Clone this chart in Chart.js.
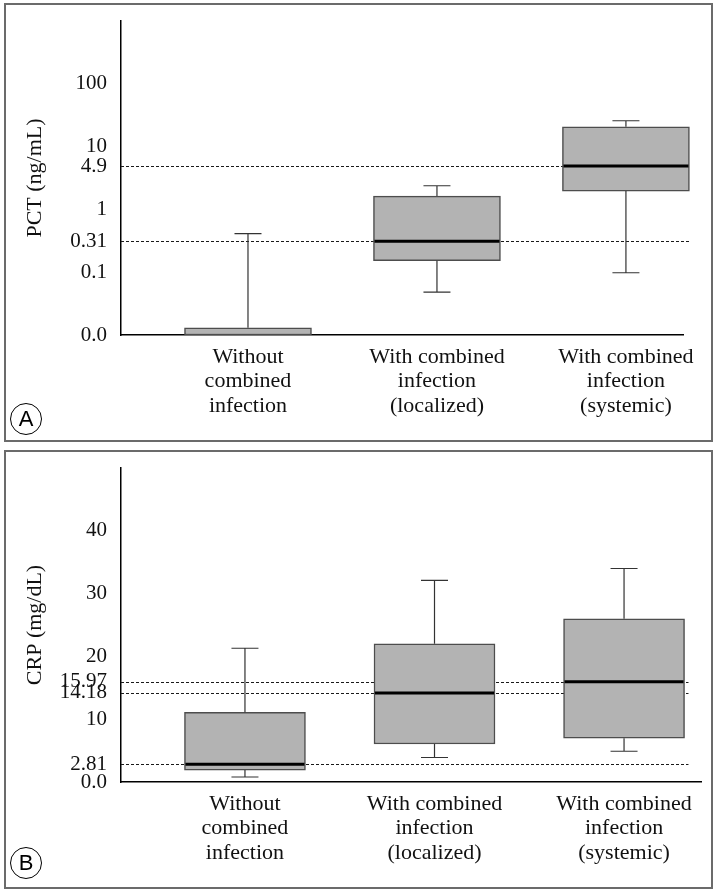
<!DOCTYPE html>
<html>
<head>
<meta charset="utf-8">
<script src="https://cdn.jsdelivr.net/npm/chart.js@4"></script>
<style>
  html, body { margin: 0; padding: 0; background: #fff; }
  body { width: 717px; height: 894px; position: relative; overflow: hidden; }
  .panel { position: absolute; left: 4px; width: 705px; height: 435px; border: 2px solid #6b6b6b; }
  #panel-a { top: 3px; }
  #panel-b { top: 450px; }
  .panel canvas { display: block; }
  .tag {
    position: absolute; left: 10px; width: 30px; height: 30px; border: 1px solid #000;
    border-radius: 50%; font: 22px "Liberation Sans", Arial, sans-serif; color: #000;
    text-align: center; line-height: 30px;
  }
</style>
</head>
<body>
<div class="panel" id="panel-a"><canvas id="chart-a" width="705" height="435"></canvas></div>
<div class="panel" id="panel-b"><canvas id="chart-b" width="705" height="435"></canvas></div>
<div class="tag" style="top:403px">A</div>
<div class="tag" style="top:847px">B</div>
<script>
var categories = [
  ['Without', 'combined', 'infection'],
  ['With combined', 'infection', '(localized)'],
  ['With combined', 'infection', '(systemic)']
];

// PCT (ng/mL), log axis; 0.01 is the bottom, labelled "0.0"
var pctMin = [0.01, 0.048, 0.098];
var pctQ1 = [0.01, 0.152, 1.96];
var pctMedian = [0.01, 0.31, 4.9];
var pctQ3 = [0.013, 1.63, 20.7];
var pctMax = [0.41, 2.38, 25.8];
var pctRefLines = [0.31, 4.9];
var pctTicks = [0.01, 0.1, 0.31, 1, 4.9, 10, 100];
var pctTickLabels = ['0.0', '0.1', '0.31', '1', '4.9', '10', '100'];

// CRP (mg/dL)
var crpMin = [0.8, 3.9, 4.9];
var crpQ1 = [1.9, 6.05, 6.96];
var crpMedian = [2.81, 14.18, 15.97];
var crpQ3 = [11.1, 22.0, 26.0];
var crpMax = [21.3, 32.1, 34.0];
var crpRefLines = [2.81, 14.18, 15.97];
var crpTicks = [0, 2.81, 10, 14.18, 15.97, 20, 30, 40];
var crpTickLabels = ['0.0', '2.81', '10', '14.18', '15.97', '20', '30', '40'];

var serif = '"Liberation Serif", "Times New Roman", serif';

var boxExtras = {
  id: 'boxExtras',
  beforeDatasetsDraw: function (chart, args, opts) {
    var ctx = chart.ctx, area = chart.chartArea, y = chart.scales.y;
    var end = chart.scales.x.getPixelForValue(opts.refEnd);
    ctx.save();
    ctx.strokeStyle = '#1a1a1a';
    ctx.lineWidth = 1;
    ctx.setLineDash([3, 2]);
    opts.refLines.forEach(function (v) {
      var py = Math.round(y.getPixelForValue(v)) + 0.5;
      ctx.beginPath();
      ctx.moveTo(area.left, py);
      ctx.lineTo(end, py);
      ctx.stroke();
    });
    ctx.restore();
  },
  afterDatasetsDraw: function (chart, args, opts) {
    var ctx = chart.ctx, x = chart.scales.x, y = chart.scales.y;
    var meta = chart.getDatasetMeta(0);
    var cap = 13.5;
    ctx.save();
    opts.median.forEach(function (m, i) {
      var half = meta.data[i].width / 2;
      var cx = x.getPixelForValue(i + 1);
      var top = y.getPixelForValue(opts.q3[i]);
      var bot = y.getPixelForValue(opts.q1[i]);
      var hi = y.getPixelForValue(opts.max[i]);
      var lo = y.getPixelForValue(opts.min[i]);
      ctx.strokeStyle = '#333';
      ctx.lineWidth = 1.2;
      ctx.beginPath();
      if (hi < top - 0.5) {
        ctx.moveTo(cx, top); ctx.lineTo(cx, hi);
        ctx.moveTo(cx - cap, hi); ctx.lineTo(cx + cap, hi);
      }
      if (lo > bot + 0.5) {
        ctx.moveTo(cx, bot); ctx.lineTo(cx, lo);
        ctx.moveTo(cx - cap, lo); ctx.lineTo(cx + cap, lo);
      }
      ctx.stroke();
      if (m > opts.q1[i]) {
        var my = y.getPixelForValue(m);
        ctx.strokeStyle = '#000';
        ctx.lineWidth = 3;
        ctx.beginPath();
        ctx.moveTo(cx - half + 1, my);
        ctx.lineTo(cx + half - 1, my);
        ctx.stroke();
      }
    });
    ctx.restore();
  }
};

function makeChart(id, cfg) {
  var data = categories.map(function (c, i) {
    return { x: i + 1, y: [cfg.q1[i], cfg.q3[i]] };
  });
  var yScale = {
    type: cfg.yType,
    min: cfg.yMin,
    max: cfg.yMax,
    grid: { display: false, drawTicks: false },
    border: { display: true, color: '#000', width: 1.5 },
    afterBuildTicks: function (scale) {
      scale.ticks = cfg.ticks.map(function (v) { return { value: v }; });
    },
    afterFit: function (scale) {
      scale.width = 115;
      scale.paddingTop = 0;
      scale.paddingBottom = 0;
    },
    ticks: {
      autoSkip: false,
      padding: 14,
      color: '#111',
      font: { family: serif, size: 21 },
      callback: function (value, index) { return cfg.tickLabels[index]; }
    },
    title: {
      display: true,
      text: cfg.title,
      color: '#111',
      font: { family: serif, size: 22 },
      padding: { top: 16, bottom: 0 }
    }
  };
  return new Chart(document.getElementById(id), {
    type: 'bar',
    data: {
      datasets: [{
        data: data,
        clip: false,
        backgroundColor: '#b3b3b3',
        borderColor: '#4d4d4d',
        borderWidth: 1.5,
        borderSkipped: false,
        barThickness: cfg.boxWidth
      }]
    },
    options: {
      responsive: false,
      animation: false,
      events: [],
      layout: { padding: { top: 16, right: cfg.rightPad, left: 0, bottom: 0 } },
      scales: {
        x: {
          type: 'linear',
          offset: false,
          min: cfg.xMin,
          max: cfg.xMax,
          grid: { display: false, drawTicks: false },
          border: { display: true, color: '#000', width: 1.5 },
          afterBuildTicks: function (scale) {
            scale.ticks = categories.map(function (c, i) { return { value: i + 1 }; });
          },
          afterFit: function (scale) {
            scale.height = 105;
            scale.paddingLeft = 0;
            scale.paddingRight = 0;
          },
          ticks: {
            autoSkip: false,
            maxRotation: 0,
            padding: 10,
            color: '#111',
            font: { family: serif, size: 22, lineHeight: 1.11 },
            callback: function (value) { return categories[Math.round(value) - 1]; }
          }
        },
        y: yScale
      },
      plugins: {
        legend: { display: false },
        tooltip: { enabled: false },
        boxExtras: {
          min: cfg.min, q1: cfg.q1, median: cfg.median, q3: cfg.q3, max: cfg.max,
          refLines: cfg.refLines, refEnd: 3.34
        }
      }
    },
    plugins: [boxExtras]
  });
}

makeChart('chart-a', {
  yType: 'logarithmic', yMin: 0.01, yMax: 1000,
  ticks: pctTicks, tickLabels: pctTickLabels, title: 'PCT (ng/mL)',
  min: pctMin, q1: pctQ1, median: pctMedian, q3: pctQ3, max: pctMax,
  refLines: pctRefLines, boxWidth: 127, rightPad: 28,
  xMin: 0.328, xMax: 3.302
});

makeChart('chart-b', {
  yType: 'linear', yMin: 0, yMax: 50,
  ticks: crpTicks, tickLabels: crpTickLabels, title: 'CRP (mg/dL)',
  min: crpMin, q1: crpQ1, median: crpMedian, q3: crpQ3, max: crpMax,
  refLines: crpRefLines, boxWidth: 121, rightPad: 10,
  xMin: 0.346, xMax: 3.406
});
</script>
</body>
</html>
